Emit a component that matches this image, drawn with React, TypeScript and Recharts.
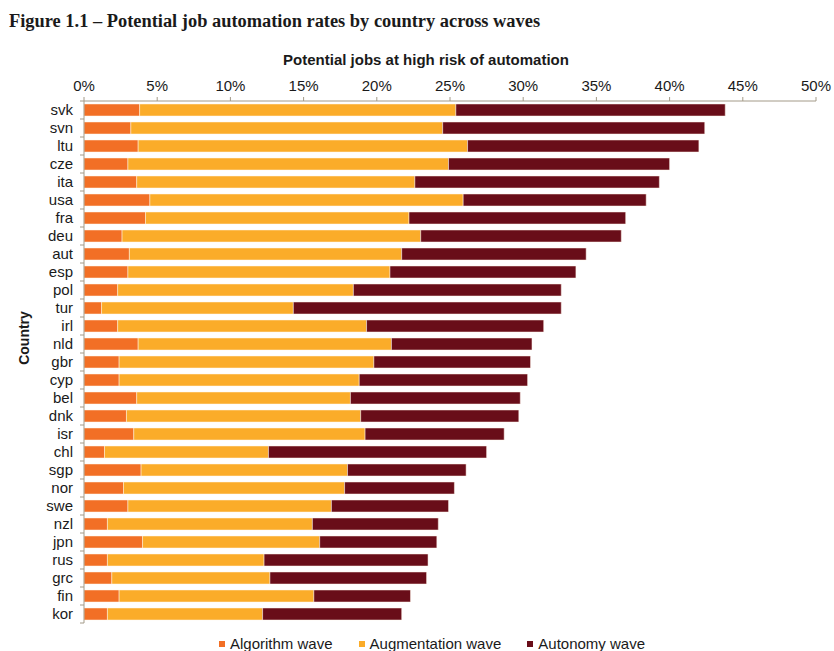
import React from 'react';
import { BarChart, Bar, XAxis, YAxis } from 'recharts';

const countries = [
  'svk', 'svn', 'ltu', 'cze', 'ita', 'usa', 'fra', 'deu', 'aut', 'esp',
  'pol', 'tur', 'irl', 'nld', 'gbr', 'cyp', 'bel', 'dnk', 'isr', 'chl',
  'sgp', 'nor', 'swe', 'nzl', 'jpn', 'rus', 'grc', 'fin', 'kor',
];
const algorithmWave = [
  3.8, 3.2, 3.7, 3.0, 3.6, 4.5, 4.2, 2.6, 3.1, 3.0,
  2.3, 1.2, 2.3, 3.7, 2.4, 2.4, 3.6, 2.9, 3.4, 1.4,
  3.9, 2.7, 3.0, 1.6, 4.0, 1.6, 1.9, 2.4, 1.6,
];
const augmentationWave = [
  21.6, 21.3, 22.5, 21.9, 19.0, 21.4, 18.0, 20.4, 18.6, 17.9,
  16.1, 13.1, 17.0, 17.3, 17.4, 16.4, 14.6, 16.0, 15.8, 11.2,
  14.1, 15.1, 13.9, 14.0, 12.1, 10.7, 10.8, 13.3, 10.6,
];
const autonomyWave = [
  18.4, 17.9, 15.8, 15.1, 16.7, 12.5, 14.8, 13.7, 12.6, 12.7,
  14.2, 18.3, 12.1, 9.6, 10.7, 11.5, 11.6, 10.8, 9.5, 14.9,
  8.1, 7.5, 8.0, 8.6, 8.0, 11.2, 10.7, 6.6, 9.5,
];
const xTicks = [0, 5, 10, 15, 20, 25, 30, 35, 40, 45, 50];

const series = [
  { key: 'algorithm', name: 'Algorithm wave', color: '#f26f25' },
  { key: 'augmentation', name: 'Augmentation wave', color: '#fbac29' },
  { key: 'autonomy', name: 'Autonomy wave', color: '#690d19' },
];

const data = countries.map((country, i) => ({
  country,
  algorithm: algorithmWave[i],
  augmentation: augmentationWave[i],
  autonomy: autonomyWave[i],
}));

const AXIS = '#a39a88';
const FONT = '"Liberation Sans", Arial, sans-serif';

const CountryTick = (props: any) => {
  const { y, payload, index } = props;
  const half = payload.offset || 9;
  const axisX = 84;
  return (
    <g>
      <line x1={axisX - 4} x2={axisX} y1={y - half} y2={y - half} stroke={AXIS} />
      {index === countries.length - 1 && (
        <line x1={axisX - 4} x2={axisX} y1={y + half} y2={y + half} stroke={AXIS} />
      )}
      <text x={73} y={y} dy={5} textAnchor="end" fill="#1a1a1a" fontSize={15} fontFamily={FONT}>
        {payload.value}
      </text>
    </g>
  );
};

export default function App() {
  return (
    <div style={{ position: 'absolute', left: 0, top: 0, width: 834, height: 651, background: '#fff', fontFamily: FONT }}>
      <div
        style={{
          position: 'absolute', left: 9, top: 11, fontFamily: '"Liberation Serif", serif',
          fontWeight: 'bold', fontSize: 18.4, color: '#1a1a1a', whiteSpace: 'nowrap',
        }}
      >
        Figure 1.1 – Potential job automation rates by country across waves
      </div>
      <div
        style={{
          position: 'absolute', left: 226, width: 400, top: 51, textAlign: 'center',
          fontWeight: 'bold', fontSize: 15, color: '#1a1a1a',
        }}
      >
        Potential jobs at high risk of automation
      </div>
      <div
        style={{
          position: 'absolute', left: 24, top: 338, transform: 'translate(-50%, -50%) rotate(-90deg)',
          fontWeight: 'bold', fontSize: 14, color: '#1a1a1a', whiteSpace: 'nowrap',
        }}
      >
        Country
      </div>

      <BarChart
        width={834}
        height={651}
        data={data}
        layout="vertical"
        margin={{ top: 71, right: 18, bottom: 28, left: 0 }}
        barCategoryGap={6}
      >
        <XAxis
          type="number"
          orientation="top"
          domain={[0, 50]}
          ticks={xTicks}
          tickFormatter={(v: number) => `${v}%`}
          height={30}
          interval={0}
          stroke={AXIS}
          tickSize={4}
          tickMargin={6}
          tick={{ fill: '#1a1a1a', fontSize: 15, fontFamily: FONT }}
        />
        <YAxis
          type="category"
          dataKey="country"
          width={84}
          interval={0}
          stroke={AXIS}
          tickLine={false}
          tick={<CountryTick />}
        />
        {series.map((s) => (
          <Bar
            key={s.key}
            dataKey={s.key}
            name={s.name}
            stackId="waves"
            fill={s.color}
            stroke="#fff4ea"
            strokeWidth={0.5}
            barSize={12}
            isAnimationActive={false}
          />
        ))}
      </BarChart>

      <div style={{ position: 'absolute', left: 219, top: 635, display: 'flex', gap: 26, fontSize: 15, color: '#1a1a1a' }}>
        {series.map((s) => (
          <div key={s.key} style={{ display: 'flex', alignItems: 'center', whiteSpace: 'nowrap' }}>
            <span style={{ display: 'inline-block', width: 6, height: 6, background: s.color, marginRight: 5 }} />
            {s.name}
          </div>
        ))}
      </div>
    </div>
  );
}
